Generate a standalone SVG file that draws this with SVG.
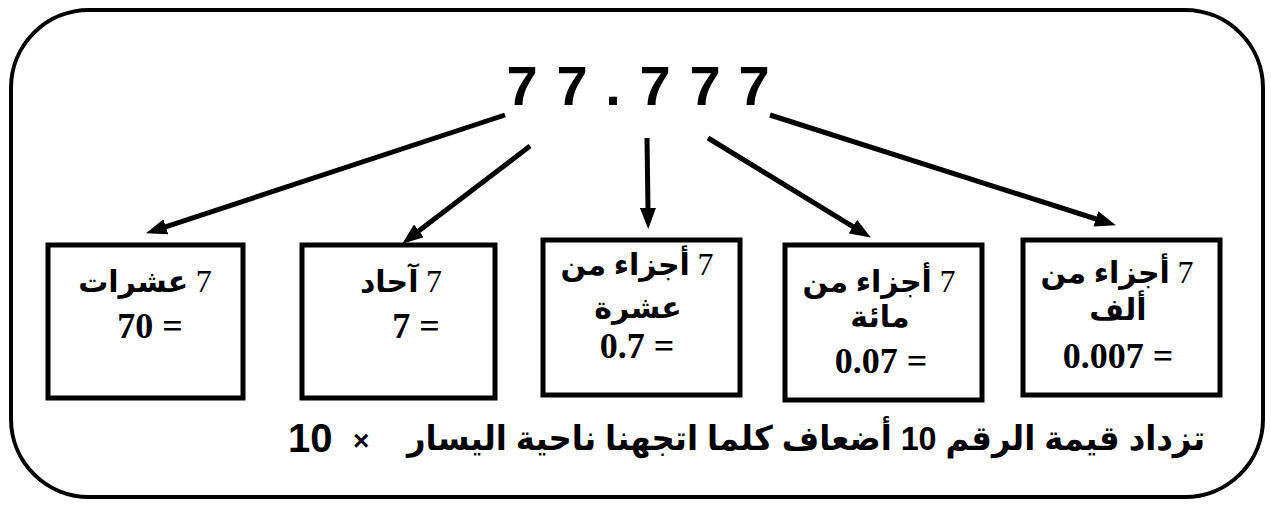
<svg xmlns="http://www.w3.org/2000/svg" width="1271" height="506" viewBox="0 0 1271 506">
<style>
.box{fill:#fff;stroke:#000;stroke-width:5}
.lbl{font-family:"Liberation Serif","DejaVu Sans",serif;font-size:30px;fill:#000;text-anchor:middle;font-weight:bold}
.ar{direction:rtl}
.d{font-weight:normal;font-size:32px}
.num{font-family:"Liberation Serif",serif;font-size:36px;font-weight:bold;fill:#000;text-anchor:middle}
.conn{stroke:#000;stroke-width:5;fill:none}
</style>
<defs>
<marker id="ah" markerUnits="userSpaceOnUse" markerWidth="22" markerHeight="16" refX="2" refY="8" orient="auto">
<path d="M0,0 L21,8 L0,16 z" fill="#000"/>
</marker>
</defs>
<rect x="11" y="10" width="1252" height="487" rx="78" ry="78" fill="#fff" stroke="#000" stroke-width="4"/>
<g id="title">
<text x="522 572 613 655 705 754" y="105" font-family="Liberation Sans, Arial, sans-serif" font-size="56" font-weight="bold" text-anchor="middle" fill="#000">77.777</text>
</g>
<g id="connectors">
<path class="conn" d="M505,115 L164,227.4" marker-end="url(#ah)"/>
<path class="conn" d="M530,146 L417.3,232.1" marker-end="url(#ah)"/>
<path class="conn" d="M647,138 L648,210" marker-end="url(#ah)"/>
<path class="conn" d="M708,138 L854.6,227.6" marker-end="url(#ah)"/>
<path class="conn" d="M770,115 L1097.8,219.5" marker-end="url(#ah)"/>
</g>
<g id="tens">
<rect class="box" x="48" y="245" width="195" height="153"/>
<text class="lbl ar" x="145" y="292"><tspan class="d">7</tspan> عشرات</text>
<text class="num" x="150" y="338">70 =</text>
</g>
<g id="ones">
<rect class="box" x="302" y="245" width="193" height="153"/>
<text class="lbl ar" x="401" y="292"><tspan class="d">7</tspan>  آحاد</text>
<text class="num" x="416" y="338">7 =</text>
</g>
<g id="tenths">
<rect class="box" x="543" y="240" width="197" height="155"/>
<text class="lbl ar" x="637" y="275"><tspan class="d">7</tspan> أجزاء من</text>
<text class="lbl ar" x="638" y="318">عشرة</text>
<text class="num" x="637" y="358">0.7 =</text>
</g>
<g id="hundredths">
<rect class="box" x="785" y="245" width="197" height="155"/>
<text class="lbl ar" x="879" y="292"><tspan class="d">7</tspan> أجزاء من</text>
<text class="lbl ar" x="880" y="327">مائة</text>
<text class="num" x="881" y="373">0.07 =</text>
</g>
<g id="thousandths">
<rect class="box" x="1023" y="240" width="197" height="155"/>
<text class="lbl ar" x="1117" y="283"><tspan class="d">7</tspan> أجزاء من</text>
<text class="lbl ar" x="1118" y="320">ألف</text>
<text class="num" x="1118" y="368">0.007 =</text>
</g>
<g id="note">
<text x="1205" y="450" direction="rtl" text-anchor="start" font-family="Liberation Sans, DejaVu Sans, sans-serif" font-size="34" font-weight="bold" fill="#000" textLength="798" lengthAdjust="spacingAndGlyphs">تزداد قيمة الرقم 10 أضعاف كلما اتجهنا ناحية اليسار</text>
<text x="288" y="452" font-family="Liberation Sans, Arial, sans-serif" font-size="40" font-weight="bold" fill="#000">10</text>
<text x="353" y="450" font-family="Liberation Sans, Arial, sans-serif" font-size="28" font-weight="bold" fill="#000">×</text>
</g>
</svg>
